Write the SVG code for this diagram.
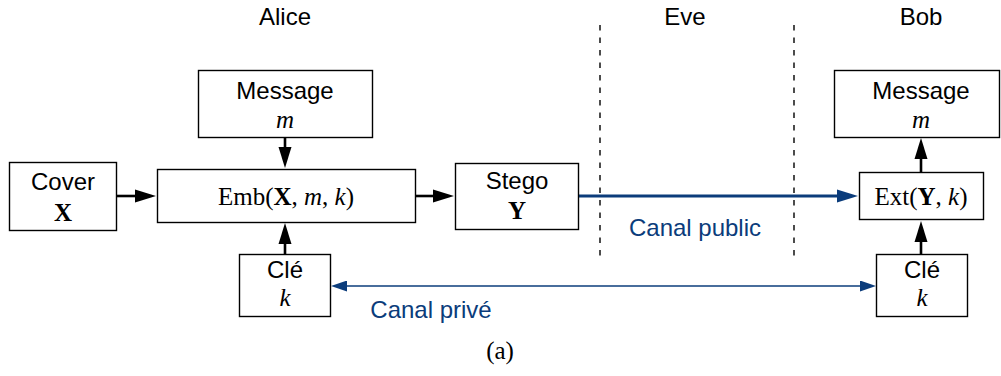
<svg xmlns="http://www.w3.org/2000/svg" width="1001" height="376" viewBox="0 0 1001 376">
<style>
.box{fill:#fff;stroke:#000;stroke-width:1.4}
.sans{font-family:"Liberation Sans",Arial,sans-serif;font-size:24px;fill:#000;text-anchor:middle}
.math{font-family:"Liberation Serif","Times New Roman",serif;font-size:25px;fill:#000;text-anchor:middle}
.blue{fill:#0b3c7b}
.arr{stroke:#000;stroke-width:2.6;fill:none}
.barr{stroke:#0b3c7b;stroke-width:3;fill:none}
.thin{stroke:#0b3c7b;stroke-width:1.5;fill:none}
.dash{stroke:#000;stroke-width:1.4;stroke-dasharray:5.5 7;fill:none}
</style>
<defs>
<marker id="ah" markerUnits="userSpaceOnUse" markerWidth="21" markerHeight="14" refX="11" refY="7" orient="auto"><path d="M0,0.5 L21,7 L0,13.5 z" fill="#000"/></marker>
<marker id="ahb" markerUnits="userSpaceOnUse" markerWidth="21" markerHeight="14" refX="11" refY="7" orient="auto"><path d="M0,0.5 L21,7 L0,13.5 z" fill="#0b3c7b"/></marker>
<marker id="ahs" markerUnits="userSpaceOnUse" markerWidth="16" markerHeight="11" refX="8" refY="5.5" orient="auto-start-reverse"><path d="M0,0 L16,5.5 L0,11 z" fill="#0b3c7b"/></marker>
</defs>
<g id="labels">
<text class="sans" x="285" y="25">Alice</text>
<text class="sans" x="685" y="25">Eve</text>
<text class="sans" x="921" y="25">Bob</text>
<line class="dash" x1="600" y1="25" x2="600" y2="259"/>
<line class="dash" x1="794" y1="25" x2="794" y2="259"/>
<text class="math" x="500" y="359">(a)</text>
</g>
<g id="connectors">
<line class="arr" x1="285" y1="137" x2="285" y2="158" marker-end="url(#ah)"/>
<line class="arr" x1="116" y1="196" x2="146" y2="196" marker-end="url(#ah)"/>
<line class="arr" x1="285" y1="254" x2="285" y2="233" marker-end="url(#ah)"/>
<line class="arr" x1="415" y1="196" x2="444" y2="196" marker-end="url(#ah)"/>
<line class="barr" x1="579" y1="196" x2="848" y2="196" marker-end="url(#ahb)"/>
<line class="arr" x1="921" y1="172" x2="921" y2="148" marker-end="url(#ah)"/>
<line class="arr" x1="921" y1="254" x2="921" y2="231" marker-end="url(#ah)"/>
<line class="thin" x1="339" y1="286" x2="868" y2="286" marker-start="url(#ahs)" marker-end="url(#ahs)"/>
<text class="sans blue" x="695" y="236">Canal public</text>
<text class="sans blue" x="431" y="318">Canal privé</text>
</g>
<g id="msgA">
<rect class="box" x="198.5" y="70.5" width="174" height="67"/>
<text class="sans" x="285" y="99">Message</text>
<text class="math" x="285" y="128" font-style="italic">m</text>
</g>
<g id="cover">
<rect class="box" x="9.5" y="162.5" width="107" height="68"/>
<text class="sans" x="63" y="190">Cover</text>
<text class="math" x="63" y="221" font-weight="bold">X</text>
</g>
<g id="emb">
<rect class="box" x="157.5" y="169.5" width="258" height="53"/>
<text class="math" x="286" y="205">Emb(<tspan font-weight="bold">X</tspan>, <tspan font-style="italic">m</tspan>, <tspan font-style="italic">k</tspan>)</text>
</g>
<g id="stego">
<rect class="box" x="455.5" y="163.5" width="123" height="66"/>
<text class="sans" x="517" y="189">Stego</text>
<text class="math" x="517" y="219" font-weight="bold">Y</text>
</g>
<g id="keyA">
<rect class="box" x="239.5" y="254.5" width="91" height="62"/>
<text class="sans" x="285" y="278">Clé</text>
<text class="math" x="285" y="306" font-style="italic">k</text>
</g>
<g id="ext">
<rect class="box" x="859.5" y="172.5" width="124" height="47"/>
<text class="math" x="921" y="205">Ext(<tspan font-weight="bold">Y</tspan>, <tspan font-style="italic">k</tspan>)</text>
</g>
<g id="msgB">
<rect class="box" x="834.5" y="70.5" width="165" height="67"/>
<text class="sans" x="921" y="99">Message</text>
<text class="math" x="921" y="128" font-style="italic">m</text>
</g>
<g id="keyB">
<rect class="box" x="876.5" y="254.5" width="91" height="62"/>
<text class="sans" x="922" y="278">Clé</text>
<text class="math" x="922" y="306" font-style="italic">k</text>
</g>
</svg>
